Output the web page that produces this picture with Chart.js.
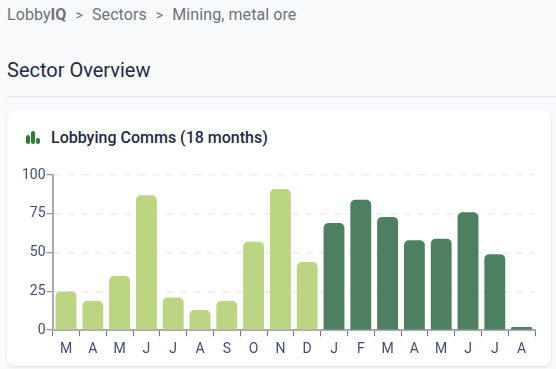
<!DOCTYPE html>
<html>
<head>
<meta charset="utf-8">
<script src="https://cdn.jsdelivr.net/npm/chart.js@4"></script>
<style>
html, body { margin: 0; padding: 0; width: 556px; height: 369px; overflow: hidden; background: #f9fafc; font-family: Roboto, sans-serif; }
#crumbs { position: absolute; left: 7px; top: 5px; font-size: 16px; line-height: 20px; color: #6b7280; white-space: nowrap; letter-spacing: 0.08px; }
#crumbs b { font-weight: 700; }
#crumbs span { margin: 0 5px 0 5px; font-size: 14px; }
#title { position: absolute; left: 7px; top: 57px; font-size: 20px; line-height: 26px; color: #1f2a44; white-space: nowrap; }
#rule { position: absolute; left: 7px; top: 96px; width: 549px; height: 1px; background: #e2e4e9; }
#card { position: absolute; left: 7px; top: 110px; width: 544px; height: 256px; background: #fff; border-radius: 8px; box-shadow: 0 1px 3px rgba(0,0,0,0.12); }
#card_title { position: absolute; left: 44px; top: 17px; font-size: 16px; font-weight: 500; line-height: 22px; color: #1f2a44; white-space: nowrap; }
#icon { position: absolute; left: 19px; top: 21px; width: 14px; height: 13px; }
#icon i { position: absolute; bottom: 0; width: 4px; background: #2e7d32; border-radius: 2px; }
#chart_box { position: absolute; left: 0; top: 50px; width: 544px; height: 203px; }
</style>
</head>
<body>
<div id="crumbs">Lobby<b>IQ</b> <span>&gt;</span> Sectors <span>&gt;</span> Mining, metal ore</div>
<div id="title">Sector Overview</div>
<div id="rule"></div>
<div id="card">
    <div id="icon"><i style="left:0;height:9px"></i><i style="left:5px;height:13px"></i><i style="left:10px;height:6px"></i></div>
    <div id="card_title">Lobbying Comms (18 months)</div>
    <div id="chart_box"><canvas id="comms_chart"></canvas></div>
</div>
<script>
const months = ['M', 'A', 'M', 'J', 'J', 'A', 'S', 'O', 'N', 'D', 'J', 'F', 'M', 'A', 'M', 'J', 'J', 'A'];
const comms = [25, 19, 35, 87, 21, 13, 19, 57, 91, 44, 69, 84, 73, 58, 59, 76, 49, 2];
const year_one_bars = 10;
const y_ticks = [0, 25, 50, 75, 100];

const light_green = '#bbd583';
const dark_green = '#4d8061';
const label_color = '#3f4f6e';

const ctx = document.getElementById('comms_chart').getContext('2d');
new Chart(ctx, {
    type: 'bar',
    data: {
        labels: months,
        datasets: [{
            data: comms,
            backgroundColor: comms.map((v, i) => i < year_one_bars ? light_green : dark_green),
            borderRadius: 5,
            borderSkipped: 'bottom',
            barPercentage: 0.78,
            categoryPercentage: 1
        }]
    },
    options: {
        responsive: true,
        maintainAspectRatio: false,
        animation: false,
        layout: { padding: { left: 14, right: 16, top: 15, bottom: 0 } },
        plugins: { legend: { display: false }, tooltip: { enabled: false } },
        scales: {
            x: {
                grid: { drawOnChartArea: false, drawTicks: true, tickLength: 6, tickColor: '#777', tickWidth: 1 },
                border: { color: '#aaaaaa', width: 2 },
                ticks: { color: label_color, font: { family: 'Roboto', size: 14 }, padding: 5, maxRotation: 0, autoSkip: false }
            },
            y: {
                min: 0,
                max: 100,
                afterBuildTicks: (axis) => { axis.ticks = y_ticks.map(v => ({ value: v })); },
                grid: { color: '#e8ecf4', lineWidth: 1.5, tickColor: '#777', tickWidth: 1, tickLength: 6, tickBorderDash: [] },
                border: { color: '#aaaaaa', width: 2, dash: [7, 7] },
                ticks: { color: label_color, font: { family: 'Roboto', size: 14 }, padding: 1 }
            }
        }
    }
});
</script>
</body>
</html>
